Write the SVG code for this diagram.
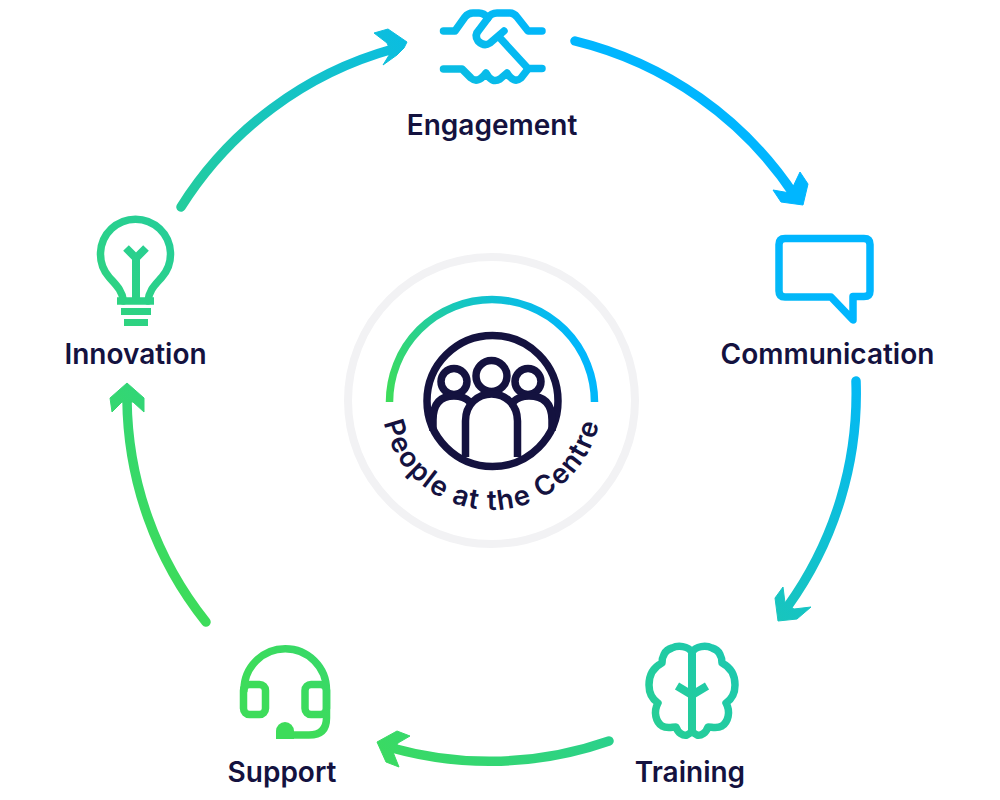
<svg xmlns="http://www.w3.org/2000/svg" width="1000" height="800" viewBox="0 0 1000 800">
<defs>
<linearGradient id="g" gradientUnits="userSpaceOnUse" x1="200" y1="620" x2="680" y2="140">
<stop offset="0" stop-color="#3ddc5a"/><stop offset="0.5" stop-color="#1ec9ac"/><stop offset="1" stop-color="#00b6ff"/>
</linearGradient>
<linearGradient id="c" gradientUnits="userSpaceOnUse" x1="390" y1="400" x2="580" y2="330">
<stop offset="0" stop-color="#3ddc5a"/><stop offset="0.5" stop-color="#16c6c0"/><stop offset="1" stop-color="#00b6ff"/>
</linearGradient>
<path id="tp" d="M381.500 400 A110 110 0 0 0 601.500 400"/>
</defs>
<style>
.l{fill:none;stroke:url(#g);stroke-linecap:round;stroke-linejoin:round}
.a{stroke-width:9.500}
.i{stroke-width:7.500}
.b{fill:none;stroke:url(#g);stroke-linecap:butt;stroke-linejoin:miter}
.h{fill:url(#g);stroke:url(#g);stroke-width:1;stroke-linejoin:round}
.n{fill:none;stroke:#14123f;stroke-width:7.500}
text{font-family:"Inter","Liberation Sans",sans-serif;font-weight:600;fill:#14123f}
.t{font-size:28px;text-anchor:middle}
</style>
<g id="connectors">
<path class="l a" d="M575 41 A368 368 0 0 1 795 196"/>
<polygon class="h" points="773,190 790,193 800,172 808,184 803,205 781,202"/>
<path class="l a" d="M856 381 A365 365 0 0 1 788 606"/>
<polygon class="h" points="783,587 775,598 778,621 797,619 811,607 794,609 785,603"/>
<path class="l a" d="M609 741 A362 362 0 0 1 392 748"/>
<polygon class="h" points="397,731 377,742 386,762 399,767 393,752 398,743 410,736"/>
<path class="l a" d="M206 622 A362 362 0 0 1 127 400"/>
<polygon class="h" points="127,383 110,398 112,412 122,402 133,402 144,412 144,398"/>
<path class="l a" d="M181 207 A366 366 0 0 1 393 49"/>
<polygon class="h" points="374,33 388,29 407,42 404,48 397,55 383,65 391,52 387,43"/>
</g>
<g id="centre">
<circle cx="491.500" cy="400.500" r="143.500" fill="none" stroke="#f2f2f4" stroke-width="8"/>
<path d="M389.500 402 A102.500 102.500 0 0 1 594.500 402" fill="none" stroke="url(#c)" stroke-width="7.500"/>
<circle class="n" cx="492.500" cy="401" r="65.500"/>
<circle class="n" cx="491.500" cy="376" r="15.500"/><circle class="n" cx="454" cy="381.500" r="13"/><circle class="n" cx="528" cy="381.500" r="13"/>
<path class="n" d="M465.500 457 V421 C465.500 404 478 394 491.500 394 C505 394 517.500 404 517.500 421 V457"/>
<path class="n" d="M433 431 V420 Q433 396 454 396 Q464 396 470 402"/>
<path class="n" d="M552 431 V420 Q552 396 529 396 Q519 396 513 402"/>
<text font-size="27.500" font-weight="500" letter-spacing="1.500"><textPath href="#tp" startOffset="50%" text-anchor="middle">People at the Centre</textPath></text>
</g>
<g id="engagement">
<path class="l i" d="M443.500 31 H455 L465 17 Q468 13 473 13 H479 Q484 13 488 18 L479 30 Q474 35 478 41 Q484 47 490 43 L504 31"/>
<path class="l i" d="M488 18 Q491 13 497 13 H510 Q514 13 517 17 L528 31 H542"/>
<path class="l i" d="M500 38 L528 68.500 H542"/>
<path class="l i" d="M443.500 69 H462 L471 78 Q478 84 486 73 Q492 84 500 79 L507 73 Q514 84 521 78 L528 69"/>
<text class="t" x="492" y="135">Engagement</text>
</g>
<g id="communication">
<path class="l i" d="M785 238.500 H864 Q870 238.500 870 244.500 V291 Q870 296.500 864 296.500 H853 V320 L831 297 H785 Q779 297 779 291 V244.500 Q779 238.500 785 238.500Z"/>
<text class="t" x="827.500" y="364">Communication</text>
</g>
<g id="training">
<path class="l i" d="M692 652 C696 646 706 645 712 648 C720 650 722 658 722 663 C732 668 735 676 735 685 C735 693 732 699 726 703 C731 712 728 722 722 726 C717 729 712 727 708 727 C706 733 701 736 697 735 C694 734 692 731 692 731 C692 731 690 734 687 735 C683 736 678 733 676 727 C672 727 667 729 662 726 C656 722 653 712 658 703 C652 699 649 693 649 685 C649 676 652 668 662 663 C662 658 664 650 672 648 C678 645 688 646 692 652Z"/>
<path class="l" stroke-width="8" d="M692 654 V730"/>
<path class="b" stroke-width="8" d="M677 686 L692 695 L707 686"/>
<text class="t" x="690" y="782">Training</text>
</g>
<g id="support">
<path class="l i" d="M244 688 V690 A41.250 41.250 0 0 1 326.500 690 V718 Q326.500 735 309 735 H290"/>
<rect class="l i" x="243.500" y="684.500" width="22" height="30" rx="6"/>
<rect class="l i" x="305" y="684.500" width="21.500" height="30" rx="6"/>
<path d="M276 739 V731 A9 9 0 0 1 294 731 V739 Z" fill="url(#g)"/>
<text class="t" x="282" y="782">Support</text>
</g>
<g id="innovation">
<path class="l i" d="M123.500 301 C122 290 116 285 109 277 A35 35 0 1 1 162 277 C155 285 149 290 148 301"/>
<path class="b" stroke-width="7.500" d="M117 301 H154"/>
<path class="b" stroke-width="8" d="M136 298 V256"/>
<path class="b" stroke-width="8" d="M126 248 L136 258 L146 248"/>
<path class="b" stroke-width="7" d="M121 311.500 H151 M124 322.500 H148"/>
<text class="t" x="135.500" y="364">Innovation</text>
</g>
</svg>
